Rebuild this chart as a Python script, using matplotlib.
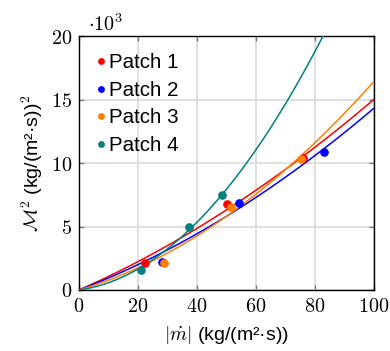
import numpy as np
import matplotlib
matplotlib.use("Agg")
import matplotlib.pyplot as plt
from matplotlib.ticker import FuncFormatter

# === DATA (M^2 in units of 10^3) ===
patches = ["Patch 1", "Patch 2", "Patch 3", "Patch 4"]
colors = ["#ff0000", "#0000ff", "#ff8000", "#008080"]

mdot_p1 = [22.5, 50.1, 75.9]
msq_p1 = [2.1, 6.75, 10.37]
mdot_p2 = [28.0, 54.2, 83.0]
msq_p2 = [2.2, 6.87, 10.9]
mdot_p3 = [28.8, 51.6, 75.2]
msq_p3 = [2.1, 6.51, 10.3]
mdot_p4 = [21.0, 37.4, 48.7]
msq_p4 = [1.6, 5.0, 7.48]

# fitted curves: M^2 = c1*|mdot| + c2*|mdot|^2
fit_c1 = [0.102, 0.089, 0.068, 0.032]
fit_c2 = [0.00048, 0.00054, 0.00096, 0.00253]

xticks = [0, 20, 40, 60, 80, 100]
yticks = [0, 5, 10, 15, 20]

# === STYLE ===
plt.rcParams['font.family'] = ['Liberation Sans', 'DejaVu Sans']
plt.rcParams['mathtext.fontset'] = 'cm'

fig = plt.figure(figsize=(3.9, 3.51), dpi=100)
ax = fig.add_axes([0.2026, 0.1738, 0.7554, 0.7232])

xs = [mdot_p1, mdot_p2, mdot_p3, mdot_p4]
ys = [msq_p1, msq_p2, msq_p3, msq_p4]
xfit = np.linspace(0, 100, 300)
for name, col, x, y, c1, c2 in zip(patches, colors, xs, ys, fit_c1, fit_c2):
    ax.plot(xfit, c1 * xfit + c2 * xfit ** 2, color=col, lw=1.1, zorder=3)
for name, col, x, y in zip(patches, colors, xs, ys):
    ax.plot(x, y, 'o', color=col, ms=5.2, ls='none', label=name, zorder=4)

ax.set_xlim(0, 100)
ax.set_ylim(0, 20)
ax.set_xticks(xticks)
ax.set_yticks(yticks)
fmt = FuncFormatter(lambda v, p: f"${v:g}$")
ax.xaxis.set_major_formatter(fmt)
ax.yaxis.set_major_formatter(fmt)
ax.tick_params(direction='in', top=True, right=True, length=3.5, width=1,
               color='#7a7a7a', labelsize=14.5, pad=5)
ax.grid(True, color='#dadada', lw=1.2)
ax.set_axisbelow(True)
for s in ax.spines.values():
    s.set_linewidth(1.0)

ax.set_xlabel(r"$|\dot{m}|$ (kg/(m²·s))", fontsize=14, labelpad=6)
ax.set_ylabel(r"$\mathcal{M}^2$ (kg/(m²·s))$^2$", fontsize=14, labelpad=4)
ax.text(0.03, 1.005, r"$\cdot 10^3$", transform=ax.transAxes, fontsize=14.5,
        ha='left', va='bottom')

leg = ax.legend(loc='upper left', frameon=False, fontsize=14.8, handletextpad=0.0,
                handlelength=0.75, markerscale=0.75, labelspacing=0.42,
                borderaxespad=0.3, bbox_to_anchor=(0.0, 0.99))

fig.savefig("out.png", dpi=100)
